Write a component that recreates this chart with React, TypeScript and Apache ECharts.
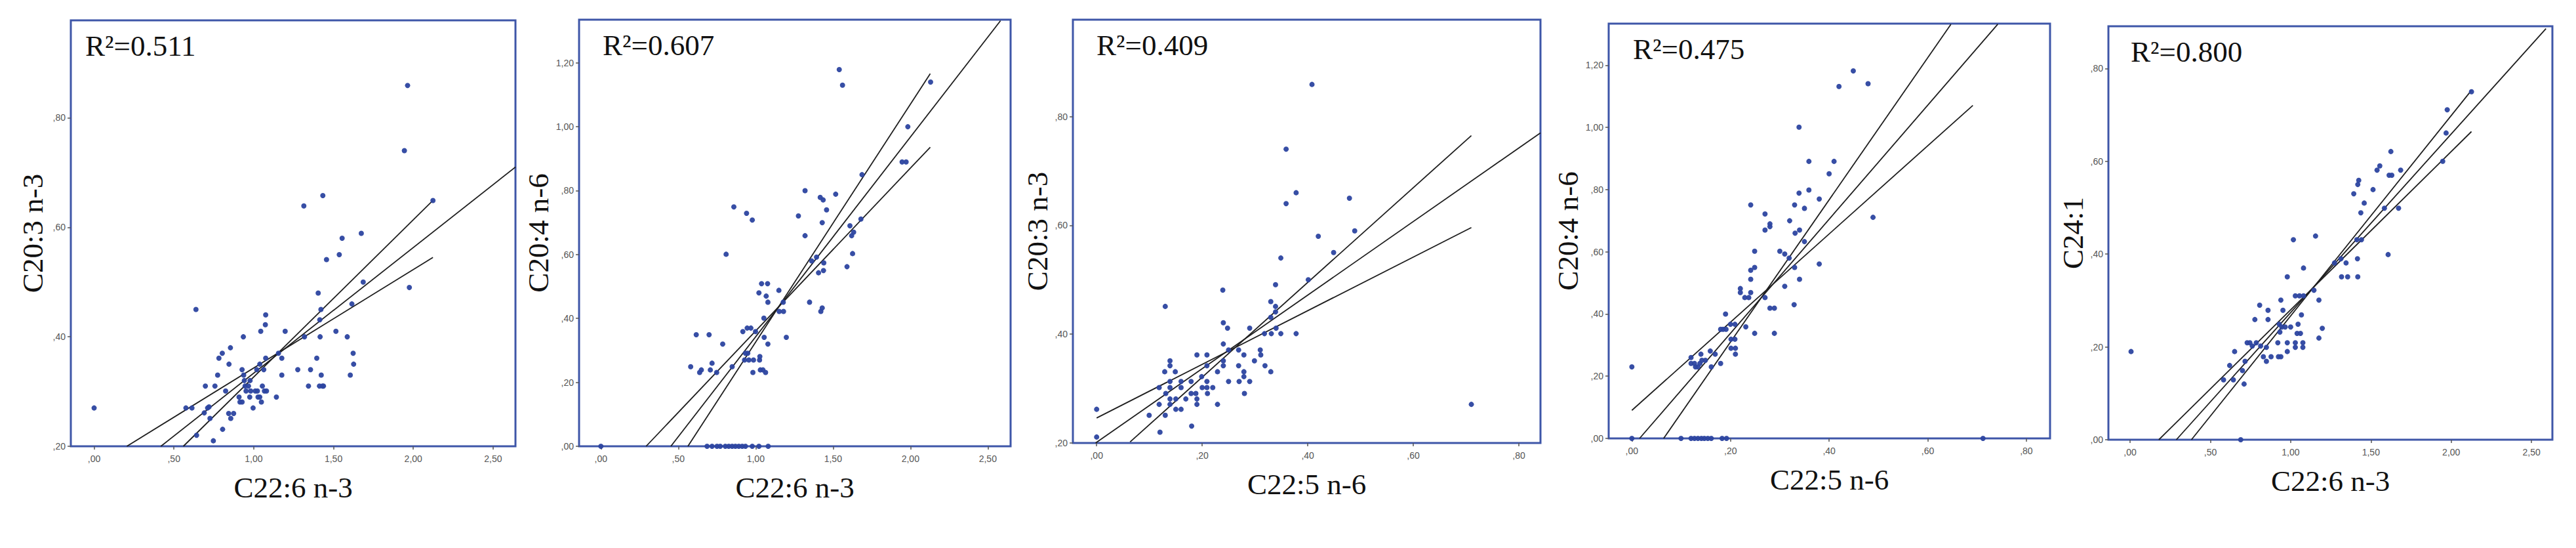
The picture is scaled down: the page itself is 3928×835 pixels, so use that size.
import React, { useEffect, useRef } from "react";
import * as echarts from "echarts";

// ---------- DATA ----------
const xTicksDHA = [0, 0.5, 1.0, 1.5, 2.0, 2.5];
const xTicksDPA = [0, 0.2, 0.4, 0.6, 0.8];
const yTicksLow = [0.2, 0.4, 0.6, 0.8];
const yTicksAA = [0, 0.2, 0.4, 0.6, 0.8, 1.0, 1.2];
const yTicksC24 = [0, 0.2, 0.4, 0.6, 0.8];

const r2Labels = ["R²=0.511", "R²=0.607", "R²=0.409", "R²=0.475", "R²=0.800"];
const xTitles = ["C22:6 n-3", "C22:6 n-3", "C22:5 n-6", "C22:5 n-6", "C22:6 n-3"];
const yTitles = ["C20:3 n-3", "C20:4 n-6", "C20:3 n-3", "C20:4 n-6", "C24:1"];

// Panel 1: C22:6 n-3 vs C20:3 n-3
const p1Points = [
  [0, 0.27], [0.638, 0.45], [0.575, 0.27], [0.613, 0.27], [0.642, 0.22], [0.69, 0.261], [0.697, 0.31],
  [0.711, 0.27], [0.72, 0.272], [0.726, 0.251], [0.747, 0.21], [0.757, 0.31], [0.774, 0.33], [0.782, 0.361],
  [0.803, 0.37], [0.805, 0.231], [0.824, 0.301], [0.843, 0.26], [0.845, 0.35], [0.854, 0.38], [0.856, 0.251],
  [0.874, 0.26], [0.908, 0.29], [0.914, 0.281], [0.927, 0.281], [0.927, 0.34], [0.935, 0.4], [0.937, 0.33],
  [0.941, 0.32], [0.946, 0.31], [0.952, 0.301], [0.967, 0.31], [0.975, 0.29], [0.977, 0.32], [0.981, 0.301],
  [0.996, 0.27], [1.01, 0.301], [1.019, 0.34], [1.023, 0.301], [1.027, 0.29], [1.038, 0.35], [1.038, 0.29],
  [1.044, 0.41], [1.048, 0.281], [1.054, 0.31], [1.063, 0.34], [1.067, 0.301], [1.073, 0.422], [1.075, 0.361],
  [1.075, 0.44], [1.08, 0.301], [1.142, 0.29], [1.155, 0.37], [1.176, 0.33], [1.176, 0.361], [1.197, 0.41],
  [1.276, 0.34], [1.314, 0.639], [1.318, 0.4], [1.343, 0.31], [1.356, 0.34], [1.395, 0.361], [1.404, 0.48],
  [1.412, 0.31], [1.414, 0.431], [1.416, 0.4], [1.421, 0.45], [1.423, 0.33], [1.431, 0.31], [1.433, 0.658],
  [1.437, 0.31], [1.456, 0.541], [1.515, 0.41], [1.536, 0.55], [1.554, 0.58], [1.586, 0.4], [1.605, 0.33],
  [1.615, 0.46], [1.623, 0.37], [1.626, 0.35], [1.674, 0.589], [1.686, 0.5], [1.944, 0.74], [1.964, 0.859],
  [1.975, 0.49], [2.123, 0.649],
];
const p1Fit = [[0.418, 0.2], [2.64, 0.71]];
const p1Upper = [[0.559, 0.2], [2.123, 0.649]];
const p1Lower = [[0.205, 0.2], [2.123, 0.545]];

// Panel 2: C22:6 n-3 vs C20:4 n-6
const p2Points = [
  [0, 0], [0.686, 0], [0.718, 0], [0.75, 0], [0.771, 0], [0.804, 0], [0.826, 0], [0.848, 0], [0.869, 0],
  [0.891, 0], [0.913, 0], [0.934, 0], [0.978, 0], [1.021, 0], [1.081, 0],
  [0.58, 0.249], [0.616, 0.349], [0.638, 0.231], [0.649, 0.239], [0.699, 0.349], [0.707, 0.239], [0.718, 0.26],
  [0.748, 0.231], [0.787, 0.32], [0.809, 0.601], [0.848, 0.249], [0.859, 0.749], [0.917, 0.359], [0.928, 0.27],
  [0.934, 0.291], [0.941, 0.729], [0.945, 0.37], [0.949, 0.291], [0.956, 0.27], [0.969, 0.37], [0.978, 0.708],
  [0.982, 0.231], [0.986, 0.27], [0.999, 0.359], [1.021, 0.48], [1.025, 0.27], [1.027, 0.281], [1.03, 0.239],
  [1.038, 0.509], [1.047, 0.239], [1.053, 0.401], [1.055, 0.341], [1.064, 0.231], [1.068, 0.47], [1.077, 0.509],
  [1.079, 0.451], [1.079, 0.32], [1.15, 0.488], [1.152, 0.422], [1.178, 0.451], [1.18, 0.422], [1.198, 0.341],
  [1.276, 0.721], [1.319, 0.8], [1.319, 0.659], [1.348, 0.451], [1.362, 0.58], [1.393, 0.592], [1.406, 0.543],
  [1.417, 0.779], [1.421, 0.422], [1.43, 0.433], [1.43, 0.7], [1.436, 0.771], [1.438, 0.55], [1.44, 0.574],
  [1.458, 0.74], [1.517, 0.789], [1.54, 1.179], [1.561, 1.13], [1.59, 0.562], [1.609, 0.69], [1.62, 0.659],
  [1.626, 0.603], [1.633, 0.67], [1.687, 0.85], [1.68, 0.711], [1.946, 0.89], [1.972, 0.89], [1.983, 1.0],
  [2.13, 1.14],
];
const p2Fit = [[0.452, 0], [2.582, 1.332]];
const p2Upper = [[0.562, 0], [2.128, 1.166]];
const p2Lower = [[0.292, 0], [2.128, 0.936]];

// Panel 3: C22:5 n-6 vs C20:3 n-3
const p3Points = [
  [0, 0.262], [0, 0.211], [0.0995, 0.251], [0.1185, 0.302], [0.1185, 0.271], [0.12, 0.22], [0.129, 0.331],
  [0.13, 0.451], [0.13, 0.251], [0.131, 0.291], [0.139, 0.351], [0.139, 0.342], [0.139, 0.313], [0.139, 0.302],
  [0.139, 0.281], [0.139, 0.271], [0.149, 0.331], [0.15, 0.281], [0.15, 0.262], [0.16, 0.313], [0.16, 0.302],
  [0.16, 0.262], [0.169, 0.281], [0.179, 0.313], [0.179, 0.291], [0.18, 0.231], [0.188, 0.291], [0.19, 0.362],
  [0.19, 0.281], [0.19, 0.271], [0.199, 0.322], [0.2, 0.302], [0.209, 0.362], [0.209, 0.342], [0.209, 0.313],
  [0.209, 0.302], [0.21, 0.291], [0.22, 0.302], [0.229, 0.271], [0.229, 0.331], [0.239, 0.481], [0.24, 0.421],
  [0.24, 0.382], [0.24, 0.351], [0.24, 0.342], [0.248, 0.411], [0.25, 0.371], [0.25, 0.313], [0.269, 0.371],
  [0.269, 0.342], [0.27, 0.313], [0.279, 0.331], [0.279, 0.322], [0.279, 0.362], [0.28, 0.291], [0.29, 0.411],
  [0.29, 0.313], [0.299, 0.351], [0.31, 0.371], [0.311, 0.362], [0.318, 0.401], [0.319, 0.342], [0.33, 0.46],
  [0.33, 0.431], [0.33, 0.331], [0.331, 0.401], [0.339, 0.451], [0.339, 0.441], [0.339, 0.491], [0.34, 0.411],
  [0.349, 0.54], [0.349, 0.401], [0.359, 0.64], [0.359, 0.74], [0.378, 0.66], [0.378, 0.401], [0.401, 0.5],
  [0.408, 0.859], [0.42, 0.58], [0.449, 0.55], [0.479, 0.65], [0.489, 0.59], [0.71, 0.271],
];
const p3Fit = [[-0.002, 0.2], [0.841, 0.77]];
const p3Upper = [[0.0634, 0.202], [0.71, 0.765]];
const p3Lower = [[0, 0.246], [0.71, 0.596]];

// Panel 4: C22:5 n-6 vs C20:4 n-6
const p4Points = [
  [0, 0], [0, 0.23], [0.0997, 0], [0.12, 0], [0.127, 0], [0.134, 0], [0.141, 0], [0.147, 0], [0.154, 0],
  [0.161, 0], [0.183, 0], [0.192, 0], [0.712, 0],
  [0.12, 0.26], [0.12, 0.241], [0.127, 0.241], [0.129, 0.23], [0.134, 0.23], [0.138, 0.241], [0.14, 0.271],
  [0.142, 0.251], [0.149, 0.251], [0.159, 0.281], [0.161, 0.23], [0.169, 0.271], [0.18, 0.241], [0.18, 0.351],
  [0.185, 0.351], [0.19, 0.4], [0.191, 0.351], [0.2, 0.367], [0.201, 0.319], [0.201, 0.29], [0.209, 0.367],
  [0.209, 0.319], [0.21, 0.29], [0.21, 0.271], [0.22, 0.482], [0.22, 0.469], [0.229, 0.453], [0.231, 0.359],
  [0.237, 0.453], [0.241, 0.469], [0.241, 0.512], [0.241, 0.541], [0.241, 0.751], [0.249, 0.55], [0.249, 0.602],
  [0.249, 0.338], [0.27, 0.453], [0.27, 0.67], [0.27, 0.722], [0.28, 0.69], [0.28, 0.681], [0.28, 0.419],
  [0.289, 0.419], [0.289, 0.338], [0.3, 0.602], [0.31, 0.489], [0.31, 0.593], [0.319, 0.58], [0.32, 0.7],
  [0.329, 0.43], [0.33, 0.55], [0.33, 0.751], [0.331, 0.66], [0.339, 0.789], [0.339, 1.001], [0.34, 0.67],
  [0.34, 0.512], [0.35, 0.633], [0.35, 0.74], [0.359, 0.799], [0.359, 0.891], [0.38, 0.77], [0.38, 0.561],
  [0.4, 0.851], [0.41, 0.891], [0.42, 1.132], [0.449, 1.182], [0.479, 1.141], [0.489, 0.711],
];
const p4Fit = [[0.0156, 0], [0.742, 1.332]];
const p4Upper = [[0.0644, 0], [0.647, 1.332]];
const p4Lower = [[0, 0.0902], [0.6915, 1.071]];

// Panel 5: C22:6 n-3 vs C24:1
const p5Points = [
  [0.006, 0.19], [0.582, 0.129], [0.62, 0.16], [0.643, 0.129], [0.651, 0.19], [0.7, 0.149], [0.71, 0.12],
  [0.689, 0], [0.716, 0.169], [0.729, 0.209], [0.746, 0.209], [0.761, 0.202], [0.777, 0.259], [0.786, 0.209],
  [0.807, 0.29], [0.813, 0.202], [0.83, 0.179], [0.849, 0.169], [0.849, 0.199], [0.859, 0.279], [0.859, 0.259],
  [0.878, 0.179], [0.92, 0.209], [0.924, 0.179], [0.929, 0.249], [0.933, 0.232], [0.939, 0.179], [0.939, 0.301],
  [0.945, 0.243], [0.952, 0.279], [0.966, 0.243], [0.979, 0.209], [0.979, 0.351], [0.979, 0.19], [1.0, 0.243],
  [1.017, 0.431], [1.029, 0.209], [1.029, 0.199], [1.029, 0.31], [1.04, 0.229], [1.046, 0.249], [1.055, 0.31],
  [1.061, 0.229], [1.067, 0.269], [1.076, 0.209], [1.076, 0.199], [1.08, 0.31], [1.08, 0.37], [1.145, 0.322],
  [1.155, 0.439], [1.176, 0.301], [1.176, 0.219], [1.197, 0.24], [1.273, 0.381], [1.313, 0.39], [1.317, 0.351],
  [1.345, 0.381], [1.355, 0.351], [1.393, 0.53], [1.412, 0.431], [1.416, 0.39], [1.418, 0.351], [1.418, 0.55],
  [1.424, 0.559], [1.437, 0.489], [1.441, 0.431], [1.458, 0.51], [1.513, 0.539], [1.538, 0.581], [1.555, 0.59],
  [1.584, 0.499], [1.607, 0.399], [1.613, 0.57], [1.624, 0.621], [1.63, 0.57], [1.672, 0.499], [1.685, 0.581],
  [1.947, 0.6], [1.968, 0.661], [1.975, 0.711], [2.126, 0.75],
];
const p5Fit = [[0.288, 0], [2.59, 0.886]];
const p5Upper = [[0.382, 0], [2.126, 0.753]];
const p5Lower = [[0.179, 0], [2.126, 0.664]];

const pointSets = [p1Points, p2Points, p3Points, p4Points, p5Points];
const lineSets = [
  [p1Fit, p1Upper, p1Lower],
  [p2Fit, p2Upper, p2Lower],
  [p3Fit, p3Upper, p3Lower],
  [p4Fit, p4Upper, p4Lower],
  [p5Fit, p5Upper, p5Lower],
];
const xRanges = [[-0.146, 2.64], [-0.141, 2.647], [-0.045, 0.841], [-0.047, 0.848], [-0.135, 2.63]];
const yRanges = [[0.2, 0.978], [0, 1.335], [0.2, 0.978], [0, 1.334], [0, 0.891]];
const xTickSets = [xTicksDHA, xTicksDHA, xTicksDPA, xTicksDPA, xTicksDHA];
const yTickSets = [yTicksLow, yTicksAA, yTicksLow, yTicksAA, yTicksC24];

// ---------- LAYOUT / STYLE ----------
const boxes = [
  { left: 108, top: 31, width: 678, height: 649, r2dx: 22, yGap: 36 },
  { left: 883, top: 30, width: 658, height: 650, r2dx: 36, yGap: 34 },
  { left: 1636, top: 30, width: 713, height: 645, r2dx: 36, yGap: 24 },
  { left: 2453, top: 36, width: 673, height: 632, r2dx: 37, yGap: 40 },
  { left: 3215, top: 40, width: 677, height: 630, r2dx: 34, yGap: 24 },
];
const FRAME = "#3e56a8";
const DOT = "#2c45a0";
const LINE = "#1e1e1e";
const SERIF = '"Liberation Serif", "DejaVu Serif", serif';
const SANS = '"Liberation Sans", Arial, sans-serif';

const fmt = (v: number) => {
  let s = Number(v).toFixed(2).replace(".", ",");
  if (s.startsWith("0")) s = s.slice(1);
  return s;
};

export default function App() {
  const ref = useRef<HTMLDivElement>(null);
  useEffect(() => {
    if (!ref.current) return;
    const chart = echarts.init(ref.current, undefined, { renderer: "svg" });
    const grid = boxes.map((b) => ({
      left: b.left,
      top: b.top,
      width: b.width,
      height: b.height,
      show: true,
      borderColor: FRAME,
      borderWidth: 3,
      backgroundColor: "#ffffff",
      containLabel: false,
    }));
    const xAxis = boxes.map((b, i) => ({
      type: "value",
      gridIndex: i,
      min: xRanges[i][0],
      max: xRanges[i][1],
      name: xTitles[i],
      nameLocation: "middle",
      nameGap: 40,
      nameTextStyle: { fontFamily: SERIF, fontSize: 45, color: "#111" },
      axisLine: { show: false, onZero: false },
      splitLine: { show: false },
      axisTick: { show: true, customValues: xTickSets[i], length: 5, lineStyle: { color: "#555", width: 1.5 } },
      axisLabel: {
        customValues: xTickSets[i],
        formatter: fmt,
        fontFamily: SANS,
        fontSize: 14,
        color: "#555",
        margin: 12,
      },
    }));
    const yAxis = boxes.map((b, i) => ({
      type: "value",
      gridIndex: i,
      min: yRanges[i][0],
      max: yRanges[i][1],
      name: yTitles[i],
      nameLocation: "middle",
      nameGap: b.yGap,
      nameTextStyle: { fontFamily: SERIF, fontSize: 45, color: "#111" },
      axisLine: { show: false, onZero: false },
      splitLine: { show: false },
      axisTick: { show: true, customValues: yTickSets[i], length: 5, lineStyle: { color: "#555", width: 1.5 } },
      axisLabel: {
        customValues: yTickSets[i],
        formatter: fmt,
        fontFamily: SANS,
        fontSize: 14,
        color: "#555",
        margin: 8,
      },
    }));
    const series: any[] = [];
    pointSets.forEach((pts, i) => {
      lineSets[i].forEach((ln) => {
        series.push({
          type: "line",
          xAxisIndex: i,
          yAxisIndex: i,
          data: ln,
          symbol: "none",
          clip: true,
          lineStyle: { color: LINE, width: 1.8 },
          z: 3,
        });
      });
      series.push({
        type: "scatter",
        xAxisIndex: i,
        yAxisIndex: i,
        data: pts,
        symbol: "circle",
        symbolSize: 8,
        itemStyle: { color: DOT, opacity: 0.95 },
        z: 4,
      });
    });
    const graphic = boxes.map((b, i) => ({
      type: "text",
      left: b.left + b.r2dx,
      top: b.top + 16,
      z: 10,
      style: { text: r2Labels[i], font: `45px ${SERIF}`, fill: "#111" },
    }));
    chart.setOption({
      animation: false,
      backgroundColor: "#ffffff",
      grid,
      xAxis,
      yAxis,
      series,
      graphic,
    });
    return () => chart.dispose();
  }, []);
  return (
    <div
      ref={ref}
      style={{ position: "absolute", left: 0, top: 0, width: 3928, height: 835, background: "#fff" }}
    />
  );
}
